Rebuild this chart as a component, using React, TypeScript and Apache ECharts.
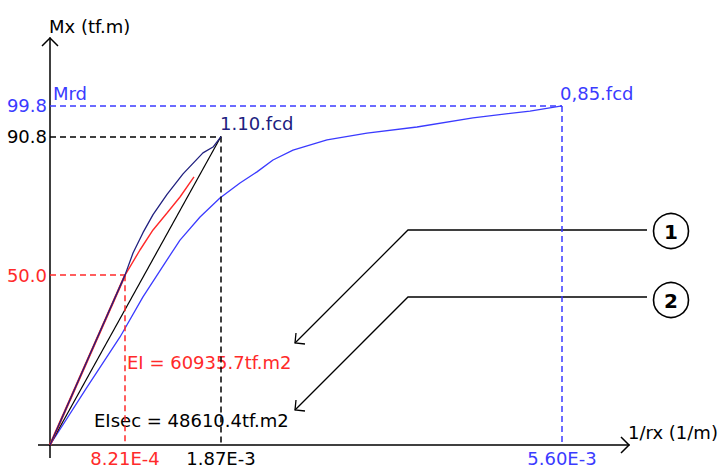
import React, { useEffect, useRef } from "react";
import * as echarts from "echarts";

// ---- data (x in 1/m, y in tf.m) ----
const blueX = [0, 0.4e-3, 0.766e-3, 1.017e-3, 1.28e-3, 1.422e-3, 1.641e-3, 1.859e-3, 2.078e-3, 2.264e-3, 2.439e-3, 2.658e-3, 3.03e-3, 3.467e-3, 4.014e-3, 4.626e-3, 5.25e-3, 5.6e-3];
const blueY = [0, 16.8, 31.8, 43.6, 54.5, 60.3, 67.1, 72.7, 77.1, 80.4, 83.9, 86.8, 89.8, 91.8, 93.6, 96.3, 98.3, 99.8];
const navyX = [0, 0.4e-3, 0.82e-3, 0.908e-3, 1.017e-3, 1.127e-3, 1.28e-3, 1.455e-3, 1.673e-3, 1.783e-3, 1.87e-3];
const navyY = [0, 24.4, 50.0, 56.5, 62.5, 67.8, 73.8, 79.8, 86.0, 87.7, 90.8];
const redX = [0, 0.4e-3, 0.821e-3, 0.984e-3, 1.127e-3, 1.28e-3, 1.422e-3, 1.575e-3];
const redY = [0, 24.4, 50.0, 57.4, 63.3, 68.3, 73.0, 78.9];
const secantX = [0, 1.87e-3];
const secantY = [0, 90.8];
const tangentX = [0, 8.21e-4];
const tangentY = [0, 50.0];

const xTicks = [8.21e-4, 1.87e-3, 5.6e-3];
const xTickLabels = ["8.21E-4", "1.87E-3", "5.60E-3"];
const yTicks = [50.0, 90.8, 99.8];
const yTickLabels = ["50.0", "90.8", "99.8"];

const BLUE = "#3b3bff";
const NAVY = "#20207f";
const RED = "#ff2a2a";
const BLACK = "#000000";
const tickColors = [RED, BLACK, BLUE];
const FONT = "DejaVu Sans";
const FS = 18;

const X_MAX = 6.333e-3;
const Y_MAX = 119.8;

const zip = (xs: number[], ys: number[]) => xs.map((x, i) => [x, ys[i]]);

const dashed = (color: string) => ({ color, width: 1.5, type: [6, 4] as any });

function refLines(x: number, y: number, color: string) {
  return {
    silent: true,
    symbol: ["none", "none"],
    label: { show: false },
    lineStyle: dashed(color),
    data: [
      [{ coord: [0, y] }, { coord: [x, y] }],
      [{ coord: [x, y] }, { coord: [x, 0] }],
    ],
  };
}

function richFor(labels: string[]) {
  const r: any = {};
  labels.forEach((_, i) => {
    r["c" + i] = { color: tickColors[i], fontSize: FS, fontFamily: FONT };
  });
  return r;
}

function fmt(ticks: number[], labels: string[]) {
  return (v: number) => {
    for (let i = 0; i < ticks.length; i++) {
      if (Math.abs(v - ticks[i]) < Math.abs(ticks[i]) * 1e-6 + 1e-12) return `{c${i}|${labels[i]}}`;
    }
    return "";
  };
}

export default function App() {
  const ref = useRef<HTMLDivElement>(null);
  useEffect(() => {
    if (!ref.current) return;
    const chart = echarts.init(ref.current, undefined, { renderer: "svg" });
    const txt = (x: number, y: number, text: string, fill: string, extra: any = {}) => ({
      type: "text",
      x,
      y,
      style: { text, fill, font: `${FS}px "${FONT}"`, verticalAlign: "middle", align: "left", ...extra },
    });
    const line = (points: number[][], w = 1.3) => ({
      type: "polyline",
      shape: { points },
      style: { stroke: BLACK, lineWidth: w, fill: "none" },
    });
    const circ = (cx: number, cy: number, label: string) => [
      { type: "circle", shape: { cx, cy, r: 17.5 }, style: { stroke: BLACK, lineWidth: 1.6, fill: "#fff" } },
      {
        type: "text",
        x: cx,
        y: cy + 1,
        style: { text: label, fill: BLACK, font: `bold 20px "${FONT}"`, align: "center", verticalAlign: "middle" },
      },
    ];
    chart.setOption({
      animation: false,
      backgroundColor: "#fff",
      grid: { left: 50, right: 91, top: 38, bottom: 24, containLabel: false, outerBoundsMode: "none" },
      xAxis: {
        type: "value",
        min: 0,
        max: X_MAX,
        axisLine: { show: true, lineStyle: { color: BLACK, width: 1.5 } },
        axisTick: { show: false },
        splitLine: { show: false },
        axisLabel: {
          show: true,
          customValues: xTicks,
          margin: 4,
          formatter: fmt(xTicks, xTickLabels),
          rich: richFor(xTickLabels),
          fontSize: FS,
          fontFamily: FONT,
          hideOverlap: false,
        },
      },
      yAxis: {
        type: "value",
        min: 0,
        max: Y_MAX,
        axisLine: { show: true, lineStyle: { color: BLACK, width: 1.5 } },
        axisTick: { show: false },
        splitLine: { show: false },
        axisLabel: {
          show: true,
          customValues: yTicks,
          margin: 3,
          formatter: fmt(yTicks, yTickLabels),
          rich: richFor(yTickLabels),
          fontSize: FS,
          fontFamily: FONT,
          hideOverlap: false,
        },
      },
      series: [
        {
          type: "line",
          name: "0,85.fcd",
          data: zip(blueX, blueY),
          showSymbol: false,
          lineStyle: { color: BLUE, width: 1.3 },
          z: 3,
          markLine: refLines(5.6e-3, 99.8, BLUE),
        },
        {
          type: "line",
          name: "secant",
          data: zip(secantX, secantY),
          showSymbol: false,
          lineStyle: { color: BLACK, width: 1.2 },
          z: 4,
          markLine: refLines(1.87e-3, 90.8, BLACK),
        },
        {
          type: "line",
          name: "tangent",
          data: zip(tangentX, tangentY),
          showSymbol: false,
          lineStyle: { color: RED, width: 2.2 },
          z: 5,
          markLine: refLines(8.21e-4, 50.0, RED),
        },
        {
          type: "line",
          name: "red",
          data: zip(redX, redY),
          showSymbol: false,
          lineStyle: { color: RED, width: 1.4 },
          z: 5,
        },
        {
          type: "line",
          name: "1.10.fcd",
          data: zip(navyX, navyY),
          showSymbol: false,
          lineStyle: { color: NAVY, width: 1.3 },
          z: 6,
        },
      ],
      graphic: [
        line([[38, 445], [50, 445]], 1.5),
        line([[50, 445], [50, 458]], 1.5),
        line([[42, 46], [50, 38], [58, 46]], 1.5),
        line([[621, 437], [629, 445], [621, 453]], 1.5),
        txt(49, 26, "Mx (tf.m)", BLACK),
        txt(628, 432, "1/rx (1/m)", BLACK),
        txt(53, 93, "Mrd", BLUE),
        txt(220, 123, "1.10.fcd", NAVY),
        txt(560, 93, "0,85.fcd", BLUE),
        txt(127, 362, "EI = 60935.7tf.m2", RED),
        txt(94, 420, "EIsec = 48610.4tf.m2", BLACK),
        line([[647, 230], [408, 230], [295, 343]]),
        line([[296, 333], [295, 343], [305, 344]]),
        line([[647, 297], [408, 297], [295, 410]]),
        line([[296, 400], [295, 410], [305, 411]]),
        ...circ(671, 231, "1"),
        ...circ(671, 300, "2"),
      ],
    });
    return () => chart.dispose();
  }, []);
  return (
    <div
      ref={ref}
      style={{ position: "absolute", left: 0, top: 0, width: 720, height: 469, background: "#fff" }}
    />
  );
}
